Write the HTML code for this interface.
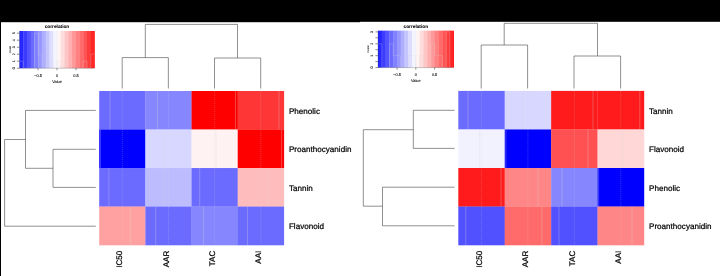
<!DOCTYPE html><html><head><meta charset="utf-8"><title>correlation heatmaps</title>
<style>html,body{margin:0;padding:0;background:#fff}svg{display:block}text{font-family:"Liberation Sans",Arial,sans-serif;fill:#000;text-rendering:geometricPrecision}.lab{stroke:#000;stroke-width:0.22px}.ttl{stroke:#000;stroke-width:0.05px}.sm{fill:#111;stroke:#111;stroke-width:0.1px}.cnt{fill:#222;stroke:#222;stroke-width:0.04px}</style></head><body>
<svg width="720" height="276" viewBox="0 0 720 276">
<rect x="0" y="0" width="720" height="276" fill="#fff"/>
<rect x="0" y="0" width="720" height="21.8" fill="#000"/>
<rect x="0" y="0" width="360" height="22.2" fill="#000"/>
<rect x="0" y="0" width="1" height="276" fill="#000"/>
<rect x="19.50" y="31" width="4.05" height="37.20" fill="#0000FF"/>
<rect x="23.25" y="31" width="4.05" height="37.20" fill="#1B1BFF"/>
<rect x="27.00" y="31" width="4.05" height="37.20" fill="#3636FF"/>
<rect x="30.75" y="31" width="4.05" height="37.20" fill="#5151FF"/>
<rect x="34.50" y="31" width="4.05" height="37.20" fill="#6B6BFF"/>
<rect x="38.25" y="31" width="4.05" height="37.20" fill="#8686FF"/>
<rect x="42.00" y="31" width="4.05" height="37.20" fill="#A1A1FF"/>
<rect x="45.75" y="31" width="4.05" height="37.20" fill="#BCBCFF"/>
<rect x="49.50" y="31" width="4.05" height="37.20" fill="#D7D7FF"/>
<rect x="53.25" y="31" width="4.05" height="37.20" fill="#F2F2FF"/>
<rect x="57.00" y="31" width="4.05" height="37.20" fill="#FFF2F2"/>
<rect x="60.75" y="31" width="4.05" height="37.20" fill="#FFD7D7"/>
<rect x="64.50" y="31" width="4.05" height="37.20" fill="#FFBCBC"/>
<rect x="68.25" y="31" width="4.05" height="37.20" fill="#FFA1A1"/>
<rect x="72.00" y="31" width="4.05" height="37.20" fill="#FF8686"/>
<rect x="75.75" y="31" width="4.05" height="37.20" fill="#FF6B6B"/>
<rect x="79.50" y="31" width="4.05" height="37.20" fill="#FF5151"/>
<rect x="83.25" y="31" width="4.05" height="37.20" fill="#FF3636"/>
<rect x="87.00" y="31" width="4.05" height="37.20" fill="#FF1B1B"/>
<rect x="90.75" y="31" width="4.05" height="37.20" fill="#FF0000"/>
<rect x="19.5" y="31" width="75.00" height="37.20" fill="#fff" opacity="0.15"/>
<path d="M19.5,61.2 L23.2,61.2 L23.2,68.2 L27.0,68.2 L27.0,68.2 L30.8,68.2 L30.8,68.2 L34.5,68.2 L34.5,33.2 L38.2,33.2 L38.2,54.2 L42.0,54.2 L42.0,68.2 L45.8,68.2 L45.8,61.2 L49.5,61.2 L49.5,61.2 L53.2,61.2 L53.2,68.2 L57.0,68.2 L57.0,61.2 L60.8,61.2 L60.8,68.2 L64.5,68.2 L64.5,61.2 L68.2,61.2 L68.2,61.2 L72.0,61.2 L72.0,68.2 L75.8,68.2 L75.8,68.2 L79.5,68.2 L79.5,68.2 L83.2,68.2 L83.2,61.2 L87.0,61.2 L87.0,68.2 L90.8,68.2 L90.8,54.2 L94.5,54.2" fill="none" stroke="rgba(215,215,215,0.5)" stroke-width="0.5"/>
<line x1="57" y1="31" x2="57" y2="68.2" stroke="rgba(215,215,215,0.5)" stroke-width="0.5" stroke-dasharray="1,1"/>
<path d="M19.5,31 V68.2 H94.5" fill="none" stroke="#222" stroke-width="0.5" opacity="0.45"/>
<text x="57" y="28.4" class="ttl" font-size="4.75" font-weight="bold" text-anchor="middle">correlation</text>
<line x1="38.0" y1="68.2" x2="38.0" y2="70.2" stroke="#333" stroke-width="0.55"/>
<text x="38.0" y="76.8" class="sm" font-size="3.9" text-anchor="middle">−0.5</text>
<line x1="57.0" y1="68.2" x2="57.0" y2="70.2" stroke="#333" stroke-width="0.55"/>
<text x="57.0" y="76.8" class="sm" font-size="3.9" text-anchor="middle">0</text>
<line x1="76.0" y1="68.2" x2="76.0" y2="70.2" stroke="#333" stroke-width="0.55"/>
<text x="76.0" y="76.8" class="sm" font-size="3.9" text-anchor="middle">0.5</text>
<text x="57" y="82.8" class="sm" font-size="3.9" text-anchor="middle">Value</text>
<line x1="16.9" y1="68.2" x2="19.5" y2="68.2" stroke="#333" stroke-width="0.55"/>
<text transform="translate(14.5,68.2) rotate(-90)" class="sm" font-size="3.6" text-anchor="middle">0</text>
<line x1="16.9" y1="61.2" x2="19.5" y2="61.2" stroke="#333" stroke-width="0.55"/>
<text transform="translate(14.5,61.2) rotate(-90)" class="sm" font-size="3.6" text-anchor="middle">1</text>
<line x1="16.9" y1="54.2" x2="19.5" y2="54.2" stroke="#333" stroke-width="0.55"/>
<text transform="translate(14.5,54.2) rotate(-90)" class="sm" font-size="3.6" text-anchor="middle">2</text>
<line x1="16.9" y1="47.2" x2="19.5" y2="47.2" stroke="#333" stroke-width="0.55"/>
<text transform="translate(14.5,47.2) rotate(-90)" class="sm" font-size="3.6" text-anchor="middle">3</text>
<line x1="16.9" y1="40.2" x2="19.5" y2="40.2" stroke="#333" stroke-width="0.55"/>
<text transform="translate(14.5,40.2) rotate(-90)" class="sm" font-size="3.6" text-anchor="middle">4</text>
<line x1="16.9" y1="33.2" x2="19.5" y2="33.2" stroke="#333" stroke-width="0.55"/>
<text transform="translate(14.5,33.2) rotate(-90)" class="sm" font-size="3.6" text-anchor="middle">5</text>
<text transform="translate(10.5,49.6) rotate(-90)" class="cnt" font-size="2.8" text-anchor="middle">Count</text>
<rect x="99.20" y="91.00" width="46.38" height="38.73" fill="#6B6BFF"/>
<rect x="145.38" y="91.00" width="46.38" height="38.73" fill="#8686FF"/>
<rect x="191.55" y="91.00" width="46.38" height="38.73" fill="#FF0000"/>
<rect x="237.72" y="91.00" width="46.38" height="38.73" fill="#FF3636"/>
<rect x="99.20" y="129.53" width="46.38" height="38.73" fill="#0000FF"/>
<rect x="145.38" y="129.53" width="46.38" height="38.73" fill="#D7D7FF"/>
<rect x="191.55" y="129.53" width="46.38" height="38.73" fill="#FFF2F2"/>
<rect x="237.72" y="129.53" width="46.38" height="38.73" fill="#FF0000"/>
<rect x="99.20" y="168.05" width="46.38" height="38.73" fill="#6B6BFF"/>
<rect x="145.38" y="168.05" width="46.38" height="38.73" fill="#BCBCFF"/>
<rect x="191.55" y="168.05" width="46.38" height="38.73" fill="#6B6BFF"/>
<rect x="237.72" y="168.05" width="46.38" height="38.73" fill="#FFBCBC"/>
<rect x="99.20" y="206.57" width="46.38" height="38.73" fill="#FFA1A1"/>
<rect x="145.38" y="206.57" width="46.38" height="38.73" fill="#6B6BFF"/>
<rect x="191.55" y="206.57" width="46.38" height="38.73" fill="#8686FF"/>
<rect x="237.72" y="206.57" width="46.38" height="38.73" fill="#6B6BFF"/>
<line x1="122.3" y1="91" x2="122.3" y2="245.1" stroke="rgba(215,215,215,0.5)" stroke-width="0.5" stroke-dasharray="1,1"/>
<path d="M110.0,91.0 V129.5 M100.4,129.5 V168.1 M108.9,168.1 V206.6 M130.4,206.6 V245.1" fill="none" stroke="rgba(215,215,215,0.5)" stroke-width="0.6"/>
<line x1="168.5" y1="91" x2="168.5" y2="245.1" stroke="rgba(215,215,215,0.5)" stroke-width="0.5" stroke-dasharray="1,1"/>
<path d="M157.5,91.0 V129.5 M164.3,129.5 V168.1 M164.0,168.1 V206.6 M155.7,206.6 V245.1" fill="none" stroke="rgba(215,215,215,0.5)" stroke-width="0.6"/>
<line x1="214.6" y1="91" x2="214.6" y2="245.1" stroke="rgba(215,215,215,0.5)" stroke-width="0.5" stroke-dasharray="1,1"/>
<path d="M235.5,91.0 V129.5 M216.0,129.5 V168.1 M199.7,168.1 V206.6 M203.4,206.6 V245.1" fill="none" stroke="rgba(215,215,215,0.5)" stroke-width="0.6"/>
<line x1="260.8" y1="91" x2="260.8" y2="245.1" stroke="rgba(215,215,215,0.5)" stroke-width="0.5" stroke-dasharray="1,1"/>
<path d="M279.0,91.0 V129.5 M281.6,129.5 V168.1 M267.5,168.1 V206.6 M247.5,206.6 V245.1" fill="none" stroke="rgba(215,215,215,0.5)" stroke-width="0.6"/>
<path d="M122.2,88.5 V57.6 H168.35 V88.5" fill="none" stroke="#4d4d4d" stroke-width="0.62"/>
<path d="M214.5,88.5 V58 H260.7 V88.5" fill="none" stroke="#4d4d4d" stroke-width="0.62"/>
<path d="M145.3,57.6 V24.4 H237.5 V58" fill="none" stroke="#4d4d4d" stroke-width="0.62"/>
<path d="M95.8,149.3 H53 V187.4 H95.8" fill="none" stroke="#4d4d4d" stroke-width="0.62"/>
<path d="M95.8,110.4 H25.5 V168.3 H53" fill="none" stroke="#4d4d4d" stroke-width="0.62"/>
<path d="M25.5,139.5 H4.6 V226.2 H95.8" fill="none" stroke="#4d4d4d" stroke-width="0.62"/>
<text x="288.9" y="113.6" class="lab" font-size="8.1">Phenolic</text>
<text x="288.9" y="152.1" class="lab" font-size="8.1">Proanthocyanidin</text>
<text x="288.9" y="190.6" class="lab" font-size="8.1">Tannin</text>
<text x="288.9" y="229.1" class="lab" font-size="8.1">Flavonoid</text>
<text transform="translate(122.4,250.7) rotate(-90)" class="lab" font-size="8.1" text-anchor="end">IC50</text>
<text transform="translate(168.6,250.7) rotate(-90)" class="lab" font-size="8.1" text-anchor="end">AAR</text>
<text transform="translate(214.7,250.7) rotate(-90)" class="lab" font-size="8.1" text-anchor="end">TAC</text>
<text transform="translate(260.9,250.7) rotate(-90)" class="lab" font-size="8.1" text-anchor="end">AAI</text>
<rect x="378.00" y="30.7" width="4.08" height="36.90" fill="#0000FF"/>
<rect x="381.79" y="30.7" width="4.08" height="36.90" fill="#1B1BFF"/>
<rect x="385.57" y="30.7" width="4.08" height="36.90" fill="#3636FF"/>
<rect x="389.36" y="30.7" width="4.08" height="36.90" fill="#5151FF"/>
<rect x="393.14" y="30.7" width="4.08" height="36.90" fill="#6B6BFF"/>
<rect x="396.93" y="30.7" width="4.08" height="36.90" fill="#8686FF"/>
<rect x="400.71" y="30.7" width="4.08" height="36.90" fill="#A1A1FF"/>
<rect x="404.50" y="30.7" width="4.08" height="36.90" fill="#BCBCFF"/>
<rect x="408.28" y="30.7" width="4.08" height="36.90" fill="#D7D7FF"/>
<rect x="412.06" y="30.7" width="4.08" height="36.90" fill="#F2F2FF"/>
<rect x="415.85" y="30.7" width="4.08" height="36.90" fill="#FFF2F2"/>
<rect x="419.63" y="30.7" width="4.08" height="36.90" fill="#FFD7D7"/>
<rect x="423.42" y="30.7" width="4.08" height="36.90" fill="#FFBCBC"/>
<rect x="427.20" y="30.7" width="4.08" height="36.90" fill="#FFA1A1"/>
<rect x="430.99" y="30.7" width="4.08" height="36.90" fill="#FF8686"/>
<rect x="434.77" y="30.7" width="4.08" height="36.90" fill="#FF6B6B"/>
<rect x="438.56" y="30.7" width="4.08" height="36.90" fill="#FF5151"/>
<rect x="442.34" y="30.7" width="4.08" height="36.90" fill="#FF3636"/>
<rect x="446.13" y="30.7" width="4.08" height="36.90" fill="#FF1B1B"/>
<rect x="449.91" y="30.7" width="4.08" height="36.90" fill="#FF0000"/>
<rect x="378" y="30.7" width="75.70" height="36.90" fill="#fff" opacity="0.15"/>
<path d="M378.0,43.8 L381.8,43.8 L381.8,67.6 L385.6,67.6 L385.6,67.6 L389.4,67.6 L389.4,43.8 L393.1,43.8 L393.1,55.7 L396.9,55.7 L396.9,55.7 L400.7,55.7 L400.7,67.6 L404.5,67.6 L404.5,67.6 L408.3,67.6 L408.3,55.7 L412.1,55.7 L412.1,55.7 L415.9,55.7 L415.9,67.6 L419.6,67.6 L419.6,55.7 L423.4,55.7 L423.4,67.6 L427.2,67.6 L427.2,67.6 L431.0,67.6 L431.0,43.8 L434.8,43.8 L434.8,55.7 L438.6,55.7 L438.6,55.7 L442.3,55.7 L442.3,67.6 L446.1,67.6 L446.1,31.9 L449.9,31.9 L449.9,67.6 L453.7,67.6" fill="none" stroke="rgba(215,215,215,0.5)" stroke-width="0.5"/>
<line x1="415.8" y1="30.7" x2="415.8" y2="67.6" stroke="rgba(215,215,215,0.5)" stroke-width="0.5" stroke-dasharray="1,1"/>
<path d="M378,30.7 V67.6 H453.7" fill="none" stroke="#222" stroke-width="0.5" opacity="0.45"/>
<text x="415.8" y="28.1" class="ttl" font-size="4.75" font-weight="bold" text-anchor="middle">correlation</text>
<line x1="397.1" y1="67.6" x2="397.1" y2="69.6" stroke="#333" stroke-width="0.55"/>
<text x="397.1" y="76.2" class="sm" font-size="3.9" text-anchor="middle">−0.5</text>
<line x1="415.8" y1="67.6" x2="415.8" y2="69.6" stroke="#333" stroke-width="0.55"/>
<text x="415.8" y="76.2" class="sm" font-size="3.9" text-anchor="middle">0</text>
<line x1="434.6" y1="67.6" x2="434.6" y2="69.6" stroke="#333" stroke-width="0.55"/>
<text x="434.6" y="76.2" class="sm" font-size="3.9" text-anchor="middle">0.5</text>
<text x="415.8" y="82.2" class="sm" font-size="3.9" text-anchor="middle">Value</text>
<line x1="375.4" y1="67.6" x2="378" y2="67.6" stroke="#333" stroke-width="0.55"/>
<text transform="translate(373.0,67.6) rotate(-90)" class="sm" font-size="3.6" text-anchor="middle">0</text>
<line x1="375.4" y1="61.6" x2="378" y2="61.6" stroke="#333" stroke-width="0.55"/>
<line x1="375.4" y1="55.7" x2="378" y2="55.7" stroke="#333" stroke-width="0.55"/>
<text transform="translate(373.0,55.7) rotate(-90)" class="sm" font-size="3.6" text-anchor="middle">1</text>
<line x1="375.4" y1="49.7" x2="378" y2="49.7" stroke="#333" stroke-width="0.55"/>
<line x1="375.4" y1="43.8" x2="378" y2="43.8" stroke="#333" stroke-width="0.55"/>
<text transform="translate(373.0,43.8) rotate(-90)" class="sm" font-size="3.6" text-anchor="middle">2</text>
<line x1="375.4" y1="37.8" x2="378" y2="37.8" stroke="#333" stroke-width="0.55"/>
<line x1="375.4" y1="31.9" x2="378" y2="31.9" stroke="#333" stroke-width="0.55"/>
<text transform="translate(373.0,31.9) rotate(-90)" class="sm" font-size="3.6" text-anchor="middle">3</text>
<text transform="translate(369.0,49.1) rotate(-90)" class="cnt" font-size="2.8" text-anchor="middle">Count</text>
<rect x="458.30" y="90.90" width="46.62" height="38.75" fill="#6B6BFF"/>
<rect x="504.73" y="90.90" width="46.62" height="38.75" fill="#D7D7FF"/>
<rect x="551.15" y="90.90" width="46.62" height="38.75" fill="#FF1B1B"/>
<rect x="597.58" y="90.90" width="46.62" height="38.75" fill="#FF1B1B"/>
<rect x="458.30" y="129.45" width="46.62" height="38.75" fill="#F2F2FF"/>
<rect x="504.73" y="129.45" width="46.62" height="38.75" fill="#0000FF"/>
<rect x="551.15" y="129.45" width="46.62" height="38.75" fill="#FF5151"/>
<rect x="597.58" y="129.45" width="46.62" height="38.75" fill="#FFD7D7"/>
<rect x="458.30" y="168.00" width="46.62" height="38.75" fill="#FF1B1B"/>
<rect x="504.73" y="168.00" width="46.62" height="38.75" fill="#FF8686"/>
<rect x="551.15" y="168.00" width="46.62" height="38.75" fill="#8686FF"/>
<rect x="597.58" y="168.00" width="46.62" height="38.75" fill="#0000FF"/>
<rect x="458.30" y="206.55" width="46.62" height="38.75" fill="#5151FF"/>
<rect x="504.73" y="206.55" width="46.62" height="38.75" fill="#FF6B6B"/>
<rect x="551.15" y="206.55" width="46.62" height="38.75" fill="#5151FF"/>
<rect x="597.58" y="206.55" width="46.62" height="38.75" fill="#FF8686"/>
<line x1="481.5" y1="90.9" x2="481.5" y2="245.1" stroke="rgba(215,215,215,0.5)" stroke-width="0.5" stroke-dasharray="1,1"/>
<path d="M468.0,90.9 V129.4 M479.6,129.4 V168.0 M501.0,168.0 V206.6 M465.8,206.6 V245.1" fill="none" stroke="rgba(215,215,215,0.5)" stroke-width="0.6"/>
<line x1="527.9" y1="90.9" x2="527.9" y2="245.1" stroke="rgba(215,215,215,0.5)" stroke-width="0.5" stroke-dasharray="1,1"/>
<path d="M523.4,90.9 V129.4 M505.9,129.4 V168.0 M538.0,168.0 V206.6 M541.9,206.6 V245.1" fill="none" stroke="rgba(215,215,215,0.5)" stroke-width="0.6"/>
<line x1="574.4" y1="90.9" x2="574.4" y2="245.1" stroke="rgba(215,215,215,0.5)" stroke-width="0.5" stroke-dasharray="1,1"/>
<path d="M593.0,90.9 V129.4 M588.0,129.4 V168.0 M562.0,168.0 V206.6 M559.0,206.6 V245.1" fill="none" stroke="rgba(215,215,215,0.5)" stroke-width="0.6"/>
<line x1="620.8" y1="90.9" x2="620.8" y2="245.1" stroke="rgba(215,215,215,0.5)" stroke-width="0.5" stroke-dasharray="1,1"/>
<path d="M639.8,90.9 V129.4 M623.0,129.4 V168.0 M598.7,168.0 V206.6 M632.0,206.6 V245.1" fill="none" stroke="rgba(215,215,215,0.5)" stroke-width="0.6"/>
<path d="M481.2,88.5 V45 H527.6 V88.5" fill="none" stroke="#4d4d4d" stroke-width="0.62"/>
<path d="M574.0,88.5 V56 H620.6 V88.5" fill="none" stroke="#4d4d4d" stroke-width="0.62"/>
<path d="M504.2,45 V23.3 H597.5 V56" fill="none" stroke="#4d4d4d" stroke-width="0.62"/>
<path d="M454.6,110.3 H413.3 V148.4 H454.6" fill="none" stroke="#4d4d4d" stroke-width="0.62"/>
<path d="M454.6,187.2 H382.5 V225.8 H454.6" fill="none" stroke="#4d4d4d" stroke-width="0.62"/>
<path d="M413.3,129.7 H363.3 V206.2 H382.5" fill="none" stroke="#4d4d4d" stroke-width="0.62"/>
<text x="649.0" y="113.5" class="lab" font-size="8.1">Tannin</text>
<text x="649.0" y="152.0" class="lab" font-size="8.1">Flavonoid</text>
<text x="649.0" y="190.6" class="lab" font-size="8.1">Phenolic</text>
<text x="649.0" y="229.1" class="lab" font-size="8.1">Proanthocyanidin</text>
<text transform="translate(481.6,250.7) rotate(-90)" class="lab" font-size="8.1" text-anchor="end">IC50</text>
<text transform="translate(528.0,250.7) rotate(-90)" class="lab" font-size="8.1" text-anchor="end">AAR</text>
<text transform="translate(574.5,250.7) rotate(-90)" class="lab" font-size="8.1" text-anchor="end">TAC</text>
<text transform="translate(620.9,250.7) rotate(-90)" class="lab" font-size="8.1" text-anchor="end">AAI</text>
</svg></body></html>
